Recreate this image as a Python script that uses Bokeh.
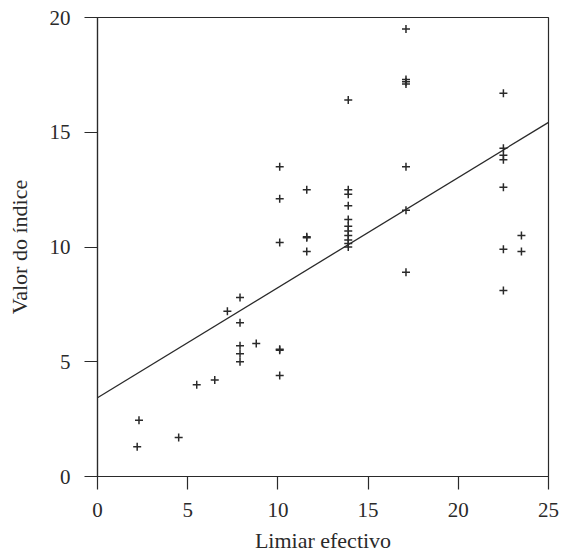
from bokeh.plotting import figure
from bokeh.models import Range1d, FixedTicker, ColumnDataSource
from bokeh.embed import file_html
from bokeh.resources import INLINE

# Data
limiar = [2.3, 2.2, 4.5, 5.5, 6.5, 7.2,
          7.9, 7.9, 7.9, 7.9, 7.9, 8.8,
          10.1, 10.1, 10.1, 10.1, 10.1, 10.1,
          11.6, 11.6, 11.6, 11.6,
          13.9, 13.9, 13.9, 13.9, 13.9, 13.9, 13.9, 13.9, 13.9, 13.9, 13.9,
          17.1, 17.1, 17.1, 17.1, 17.1, 17.1, 17.1,
          22.5, 22.5, 22.5, 22.5, 22.5, 22.5, 22.5,
          23.5, 23.5]
indice = [2.45, 1.3, 1.7, 4.0, 4.2, 7.2,
          7.8, 6.7, 5.7, 5.35, 5.0, 5.8,
          5.5, 5.55, 4.4, 10.2, 12.1, 13.5,
          12.5, 10.4, 10.45, 9.8,
          16.4, 12.5, 12.3, 11.8, 11.2, 10.9, 10.7, 10.5, 10.3, 10.15, 10.0,
          19.5, 17.1, 17.2, 17.3, 13.5, 11.6, 8.9,
          16.7, 14.3, 14.0, 13.8, 12.6, 9.9, 8.1,
          10.5, 9.8]

fit_intercept = 3.43
fit_slope = 0.48
fit_x = [0, 25]
fit_y = [fit_intercept + fit_slope * v for v in fit_x]

x_ticks = [0, 5, 10, 15, 20, 25]
y_ticks = [0, 5, 10, 15, 20]
x_title = "Limiar efectivo"
y_title = "Valor do índice"

FONT = "Liberation Serif"
INK = "#2a2a2a"

p = figure(width=561, height=559, output_backend="svg", toolbar_location=None,
           x_range=Range1d(0, 25), y_range=Range1d(0, 20),
           min_border_left=97, min_border_right=13, min_border_top=17,
           min_border_bottom=83, background_fill_color="white",
           border_fill_color="white")

p.xgrid.visible = False
p.ygrid.visible = False
p.outline_line_color = INK
p.outline_line_width = 1.2

src = ColumnDataSource(data=dict(x=limiar, y=indice))
p.scatter("x", "y", source=src, marker="cross", size=8, line_width=1.5,
          line_color=INK)
p.line(fit_x, fit_y, line_color=INK, line_width=1.3)

for ax, ticks in ((p.xaxis[0], x_ticks), (p.yaxis[0], y_ticks)):
    ax.ticker = FixedTicker(ticks=ticks)
    ax.minor_tick_line_color = None
    ax.major_tick_in = 0
    ax.major_tick_out = 13
    ax.major_tick_line_color = INK
    ax.major_tick_line_width = 1.2
    ax.axis_line_color = INK
    ax.axis_line_width = 1.2
    ax.major_label_text_font = FONT
    ax.major_label_text_font_size = "21px"
    ax.major_label_text_color = INK
    ax.axis_label_text_font = FONT
    ax.axis_label_text_font_size = "22px"
    ax.axis_label_text_font_style = "normal"
    ax.axis_label_text_color = INK

p.xaxis.axis_label = x_title
p.yaxis.axis_label = y_title
p.xaxis.major_label_standoff = 13
p.xaxis.axis_label_standoff = 8
p.yaxis.major_label_standoff = 14
p.yaxis.axis_label_standoff = 15

open("out.html", "w").write(file_html(p, INLINE))
